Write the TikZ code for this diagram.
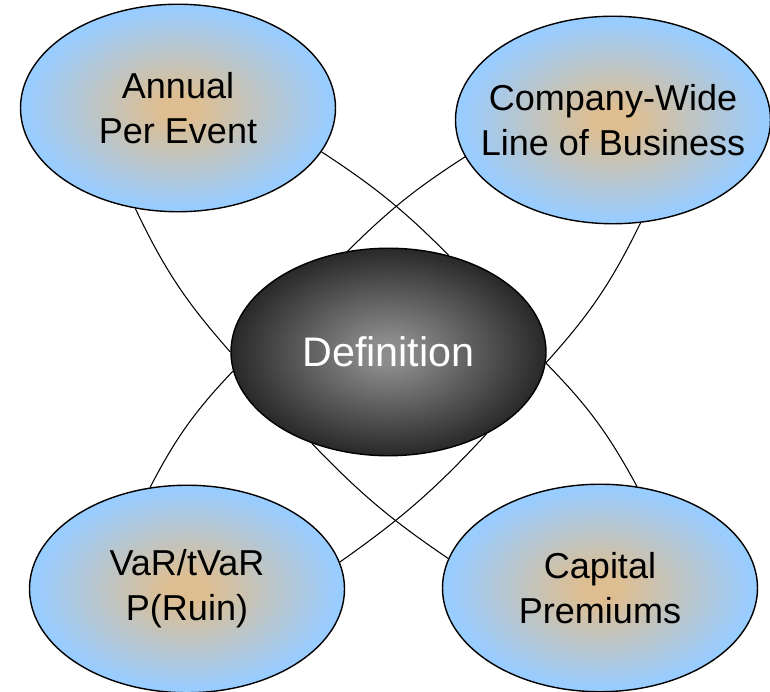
\documentclass[tikz,border=0pt]{standalone}
\usepackage{fontspec}
\setmainfont{Liberation Sans}
\usetikzlibrary{shapes.geometric,backgrounds}

\definecolor{skyblue}{RGB}{153,204,255}
\definecolor{sand}{RGB}{222,190,145}
\definecolor{midgray}{RGB}{140,140,140}

% softer fills: the outer colour is reached close to the rim
\pgfdeclareradialshading{topicfill}{\pgfpointorigin}{%
  color(0bp)=(sand); color(3bp)=(sand); color(24bp)=(skyblue); color(50bp)=(skyblue)}
\pgfdeclareradialshading{corefill}{\pgfpointorigin}{%
  color(0bp)=(midgray); color(3bp)=(midgray); color(34bp)=(black); color(50bp)=(black)}

\tikzset{
  topic/.style={ellipse, draw=black, line width=0.8pt,
    minimum width=6.3cm, minimum height=4.15cm, inner sep=0pt,
    shading=topicfill},
  core/.style={topic, shading=corefill},
  caption/.style={align=center, font=\fontsize{20.5}{25.5}\selectfont},
  link/.style={line width=0.6pt}
}

\begin{document}
\begin{tikzpicture}
\useasboundingbox (0,0) rectangle (15.4,13.84);
% the four outer topics
\node[topic, label={[caption]center:{Annual\\Per Event}}] (annual) at (3.56,11.68) {};
\node[topic, label={[caption]center:{Company-Wide\\Line of Business}}] (company) at (12.26,11.44) {};
\node[topic, label={[caption]center:{VaR/tVaR\\P(Ruin)}}] (var) at (3.74,2.06) {};
\node[topic, label={[caption]center:{Capital\\Premiums}}] (capital) at (12.0,2.08) {};
% centre
\node[core, label={[caption, text=white, font=\fontsize{23.5}{28}\selectfont]center:Definition}] (def) at (7.77,6.80) {};

\begin{scope}[on background layer]
  \draw[link] (def.180) to[bend left=8] (annual.247);
  \draw[link] (def.58) to[bend right=6] (annual.343);
  \draw[link] (def.112) to[bend left=6] (company.194);
  \draw[link] (def.356) to[bend right=8] (company.285);
  \draw[link] (def.187) to[bend right=8] (var.110);
  \draw[link] (def.320) to[bend left=6] (var.10.6);
  \draw[link] (def.356) to[bend left=8] (capital.70);
  \draw[link] (def.230) to[bend right=6] (capital.169);
\end{scope}
\end{tikzpicture}
\end{document}
